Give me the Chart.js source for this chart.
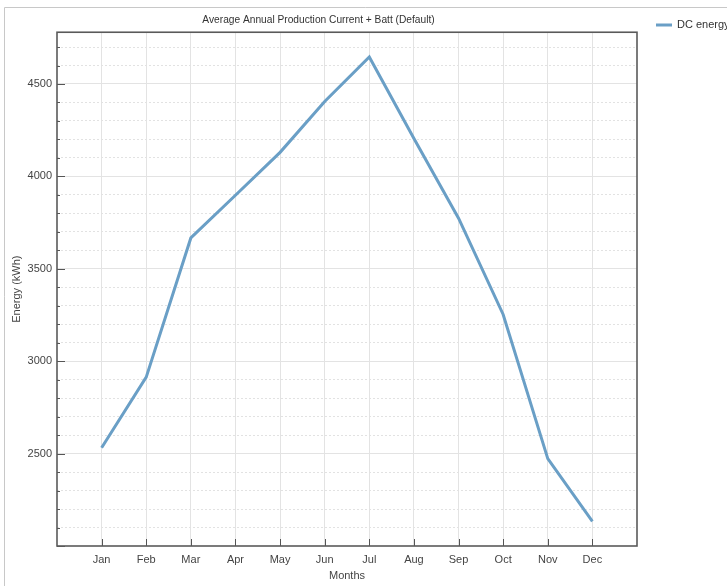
<!DOCTYPE html>
<html>
<head>
<meta charset="utf-8">
<script src="https://cdn.jsdelivr.net/npm/chart.js@4/dist/chart.umd.min.js"></script>
<style>
  html, body { margin: 0; padding: 0; background: #fff; overflow: hidden; }
  #wrap { position: relative; width: 727px; height: 586px; }
</style>
</head>
<body>
<div id="wrap"><canvas id="prod-chart" width="727" height="586"></canvas></div>
<script>
/* ============================== DATA ============================== */
const months = ['Jan', 'Feb', 'Mar', 'Apr', 'May', 'Jun', 'Jul', 'Aug', 'Sep', 'Oct', 'Nov', 'Dec'];
const dcEnergy = [2532, 2914, 3667, 3898, 4130, 4405, 4646, 4205, 3774, 3253, 2473, 2133];
const yMin = 2000;
const yMax = 4780;
const yMajorStep = 500;
const yMinorStep = 100;

const FONT = "'Liberation Sans', Arial, sans-serif";


/* ============================== PLUGINS ============================== */
// outer frame (top + left only, the rest is cut off)
const framePlugin = {
    id: 'framePlugin',
    beforeDraw(chart) {
        const { ctx, width, height } = chart;
        ctx.save();
        ctx.strokeStyle = '#c8c8c8';
        ctx.lineWidth = 1;
        ctx.beginPath();
        ctx.moveTo(4.5, height);
        ctx.lineTo(4.5, 7.5);
        ctx.lineTo(width, 7.5);
        ctx.stroke();
        ctx.restore();
    }
};

// plot box + inward tick marks
const boxPlugin = {
    id: 'boxPlugin',
    afterDraw(chart) {
        const { ctx, chartArea } = chart;
        const { left, right, top, bottom } = chartArea;
        const ys = chart.scales.y;
        const xs = chart.scales.x;
        ctx.save();
        ctx.strokeStyle = '#555';
        ctx.lineWidth = 1;
        ctx.beginPath();
        ys.ticks.forEach(t => {
            const py = Math.round(ys.getPixelForValue(t.value)) + 0.5;
            const len = (t.value % yMajorStep === 0) ? 8 : 3;
            ctx.moveTo(left, py);
            ctx.lineTo(left + len, py);
        });
        xs.ticks.forEach(t => {
            if (t.value < 1 || t.value > months.length) return;
            const px = Math.round(xs.getPixelForValue(t.value)) + 0.5;
            ctx.moveTo(px, bottom);
            ctx.lineTo(px, bottom - 7);
        });
        ctx.stroke();

        ctx.strokeStyle = '#5a5a5a';
        ctx.lineWidth = 1.6;
        ctx.strokeRect(left, top, right - left, bottom - top);
        ctx.restore();
    }
};

// legend sitting to the right of the plot
const legendPlugin = {
    id: 'legendPlugin',
    afterDraw(chart) {
        const { ctx } = chart;
        const ds = chart.data.datasets[0];
        ctx.save();
        ctx.strokeStyle = ds.borderColor;
        ctx.lineWidth = 3;
        ctx.beginPath();
        ctx.moveTo(656, 25);
        ctx.lineTo(672, 25);
        ctx.stroke();
        ctx.fillStyle = '#333';
        ctx.font = '11px ' + FONT;
        ctx.textBaseline = 'middle';
        ctx.fillText(ds.label, 677, 25);
        ctx.restore();
    }
};


/* ============================== CHART ============================== */
function prodChart() {
    const ctx = document.getElementById('prod-chart').getContext('2d');

    Chart.defaults.font.family = FONT;
    Chart.defaults.font.size = 11;
    Chart.defaults.color = '#444';

    new Chart(ctx, {
        type: 'line',
        data: {
            datasets: [{
                label: 'DC energy',
                data: dcEnergy.map((v, i) => ({ x: i + 1, y: v })),
                borderColor: '#6a9fc6',
                borderWidth: 3,
                pointRadius: 0,
                pointHoverRadius: 0,
                tension: 0,
                fill: false
            }]
        },
        options: {
            responsive: false,
            animation: false,
            layout: { padding: { left: 0, right: 90, top: 0, bottom: 0 } },
            plugins: {
                legend: { display: false },
                tooltip: { enabled: false },
                title: {
                    display: true,
                    text: 'Average Annual Production Current + Batt (Default)',
                    color: '#333',
                    font: { size: 10.2, weight: 'normal' },
                    padding: { top: 14, bottom: 6 }
                }
            },
            scales: {
                x: {
                    type: 'linear',
                    min: 0,
                    max: months.length + 1,
                    afterBuildTicks: (s) => {
                        s.ticks = [];
                        for (let i = 0; i <= months.length + 1; i++) s.ticks.push({ value: i });
                    },
                    afterFit: (s) => { s.height = 40; },
                    ticks: {
                        padding: 7,
                        color: '#444',
                        maxRotation: 0,
                        callback: (v) => months[v - 1] || ''
                    },
                    grid: {
                        drawTicks: false,
                        color: (c) => (c.tick && c.tick.value >= 1 && c.tick.value <= months.length) ? '#e3e3e3' : 'transparent',
                        lineWidth: 1
                    },
                    border: { display: false },
                    title: {
                        display: true,
                        text: 'Months',
                        color: '#444',
                        font: { size: 11 },
                        padding: { top: 2, bottom: 3 }
                    }
                },
                yMinor: {
                    type: 'linear',
                    position: 'left',
                    min: yMin,
                    max: yMax,
                    afterBuildTicks: (s) => {
                        s.ticks = [];
                        for (let v = yMin; v <= yMax; v += yMinorStep) s.ticks.push({ value: v });
                    },
                    afterFit: (s) => { s.width = 0; },
                    ticks: { display: false },
                    grid: {
                        drawTicks: false,
                        color: (c) => (c.tick && c.tick.value % yMajorStep !== 0) ? '#e2e2e2' : 'transparent',
                        lineWidth: 1
                    },
                    border: { display: false, dash: [2, 2] }
                },
                y: {
                    type: 'linear',
                    position: 'left',
                    min: yMin,
                    max: yMax,
                    afterBuildTicks: (s) => {
                        s.ticks = [];
                        for (let v = yMin; v <= yMax; v += yMinorStep) s.ticks.push({ value: v });
                    },
                    afterFit: (s) => { s.width = 57; },
                    ticks: {
                        padding: 5,
                        color: '#444',
                        autoSkip: false,
                        callback: (v) => (v % yMajorStep === 0 && v > yMin) ? String(v) : ''
                    },
                    grid: {
                        drawTicks: false,
                        color: (c) => (c.tick && c.tick.value % yMajorStep === 0 && c.tick.value > yMin) ? '#e3e3e3' : 'transparent',
                        lineWidth: 1
                    },
                    border: { display: false },
                    title: {
                        display: true,
                        text: 'Energy (kWh)',
                        color: '#444',
                        font: { size: 11 },
                        padding: { top: 10, bottom: 0 }
                    }
                }
            }
        },
        plugins: [framePlugin, boxPlugin, legendPlugin]
    });
}

prodChart();
</script>
</body>
</html>
